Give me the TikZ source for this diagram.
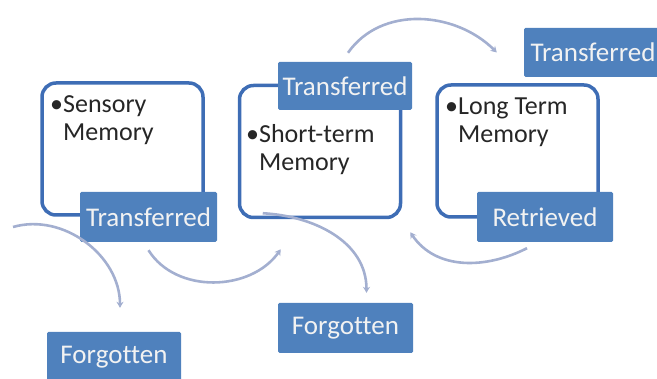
\documentclass[tikz,border=0pt]{standalone}
\usepackage{fontspec}
\setmainfont{Carlito}[Ligatures=NoCommon]
\usetikzlibrary{arrows.meta,positioning}
\definecolor{tagblue}{HTML}{4F81BD}
\definecolor{rimblue}{HTML}{3E6DB5}
\definecolor{arcgray}{HTML}{A3AFD0}
\tikzset{
  mem/.style={rectangle, draw=rimblue, line width=3.5pt, rounded corners=14pt,
              minimum width=161pt, minimum height=132pt},
  memtext/.style={anchor=base west, align=left, inner sep=0pt, text=black!85,
              font=\fontsize{26}{28}\selectfont},
  tag/.style={rectangle, fill=tagblue, rounded corners=1.5pt, minimum width=136pt,
              minimum height=50pt, inner sep=0pt, text=white!95!black,
              font=\fontsize{27}{28}\selectfont},
  flow/.style={draw=arcgray, line width=2.6pt, -{Stealth[length=6pt,width=7pt]}}
}

\begin{document}
\begin{tikzpicture}[x=1pt, y=1pt]
  \useasboundingbox (0,0) rectangle (657,-379);

  % the three stores (base = last line)
  \node[mem] (sm) at (122.5,-149) {};
  \node[mem] (stm) at (320,-151.5) {};
  \node[mem] (ltm) at (517.5,-151) {};
  \node[memtext] (smt) at (50,-141) {\textbullet Sensory\\\phantom{\textbullet}Memory};
  \node[memtext] (stmt) at (246,-171) {\textbullet Short-term\\\phantom{\textbullet}Memory};
  \node[memtext] (ltmt) at (445,-143) {\textbullet Long Term\\\phantom{\textbullet}Memory};

  % labels
  \node[tag, minimum width=137pt] (t1) at (148.5,-217) {Transferred};
  \node[tag, minimum width=134pt, minimum height=48pt] (t2) at (345,-86) {Transferred};
  \node[tag, minimum width=138pt, minimum height=49pt] (t3) at (593,-52.5) {Transferred};
  \node[tag] (rt) at (545,-217) {Retrieved};
  \node[tag, minimum width=134pt] (f1) at (114,-357) {Forgotten};
  \node[tag, minimum width=135pt] (f2) at (345.5,-328) {Forgotten};

  % arc end points
  \coordinate (a0) at (13,-227);
  \coordinate[above right=24pt and 6pt of f1.north] (a1);
  \coordinate[below=8pt of t1.south] (b0);
  \coordinate[below right=30pt and 43pt of stm.south west] (b1);
  \coordinate[above right=6pt and 25pt of stm.south west] (c0);
  \coordinate[above right=10pt and 21pt of f2.north] (c1);
  \coordinate[above right=9pt and 3pt of t2.north] (d0);
  \coordinate[left=27pt of t3.west] (d1);
  \coordinate[below left=6pt and 18pt of rt.south] (e0);
  \coordinate[below right=13pt and 8pt of stm.south east] (e1);

  \draw[flow] (a0) to[out=16, in=90] (a1);
  \draw[flow] (b0) to[out=-58, in=-125] (b1);
  \draw[flow] (c0) to[out=-3, in=90] (c1);
  \draw[flow] (d0) to[out=55, in=135] (d1);
  \draw[flow] (e0) to[out=-153, in=-56] (e1);
\end{tikzpicture}
\end{document}
